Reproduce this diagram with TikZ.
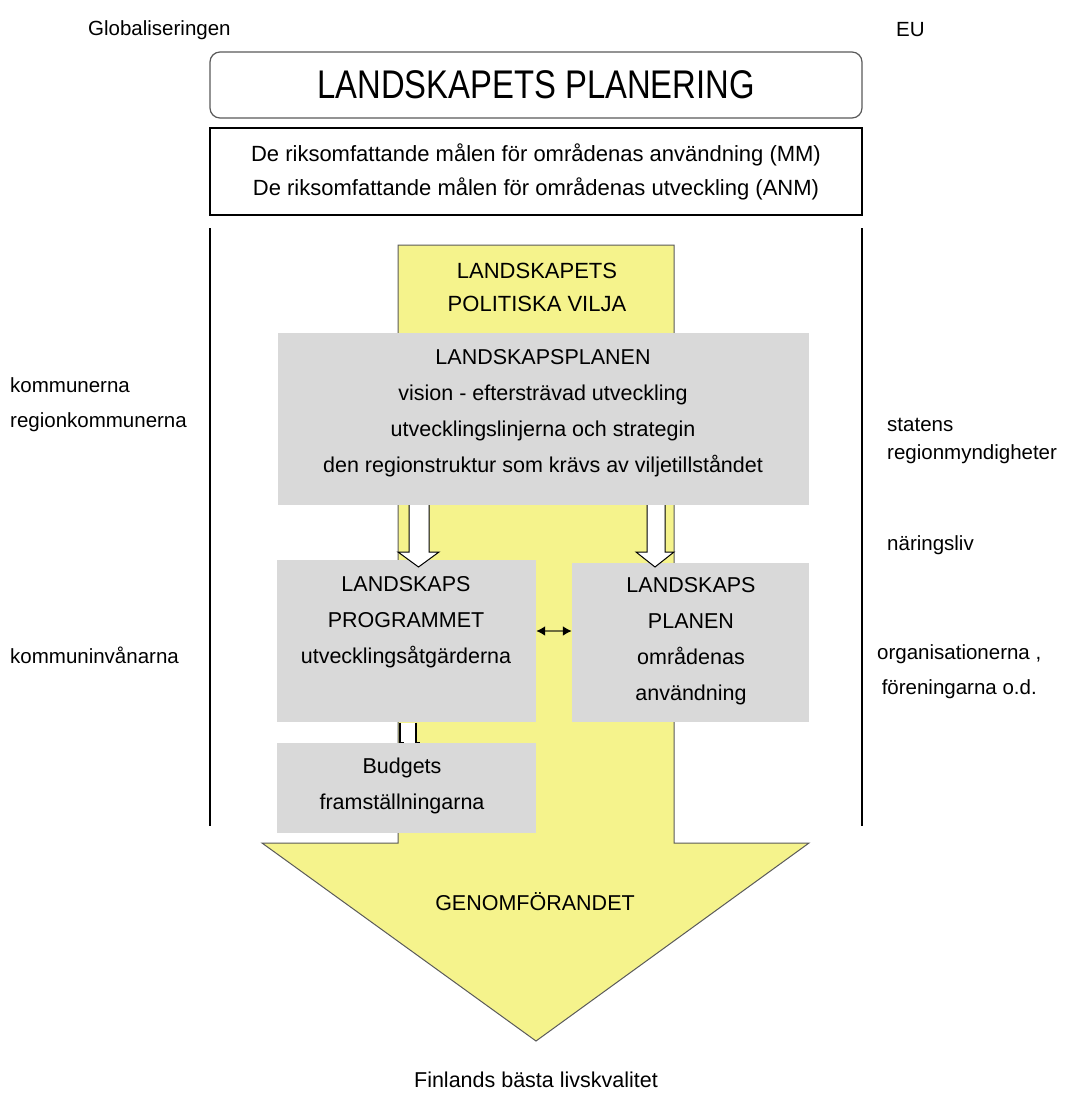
\documentclass[tikz,border=0pt]{standalone}
\usepackage{fontspec}
\setmainfont{Liberation Sans}
\newfontfamily\titlefont[FakeStretch=0.82]{Liberation Sans}
\usetikzlibrary{arrows.meta}
\definecolor{arrowyellow}{RGB}{245,243,140}
\definecolor{boxgray}{RGB}{217,217,217}
\definecolor{edgegray}{RGB}{90,90,90}
\begin{document}
\begin{tikzpicture}[x=1pt,y=-1pt,
  txt/.style={inner sep=0pt, font=\fontsize{21.5}{36}\selectfont, align=center},
  sidetxt/.style={inner sep=0pt, anchor=west, font=\fontsize{20.5}{28}\selectfont, align=left},
  graybox/.style={fill=boxgray, draw=none, inner sep=0pt},
  whitearrow/.style={draw=black, line width=1pt, fill=white},
  frameline/.style={line width=1.8pt, black}]
\useasboundingbox (0,0) rectangle (1070,1095);
\fill[white] (0,0) rectangle (1070,1095);

% top labels
\node[sidetxt] (glob) at (88,30) {Globaliseringen};
\node[sidetxt] (eu) at (896,30) {EU};

% title box
\node[draw=edgegray, line width=1.2pt, rounded corners=10pt, minimum width=652pt, minimum height=66pt, inner sep=0pt] (title) at (536,85) {\titlefont\fontsize{40}{40}\selectfont LANDSKAPETS PLANERING};

% goals box
\node[draw=black, line width=1.8pt, minimum width=652pt, minimum height=87pt, inner sep=0pt, txt, font=\fontsize{22}{34}\selectfont] (goals) at (536,171.5) {De riksomfattande målen för områdenas användning (MM)\\De riksomfattande målen för områdenas utveckling (ANM)};

% frame lines
\coordinate (lt) at (210,228);
\coordinate (lb) at (210,826);
\coordinate (rt) at (862,228);
\coordinate (rb) at (862,826);
\draw[frameline] (lt) -- (lb);
\draw[frameline] (rt) -- (rb);

% big yellow arrow
\draw[edgegray, line width=1pt, fill=arrowyellow] (398,245) -- (674,245) -- (674,843) -- (809,843) -- (536,1041) -- (262,843) -- (398,843) -- cycle;
\node[txt, font=\fontsize{22}{33}\selectfont] (vilja) at (537,287) {LANDSKAPETS\\POLITISKA VILJA};

% main gray box
\node[graybox, minimum width=531pt, minimum height=172pt] (planbox) at (543.5,419) {};
\node[txt] (plantxt) at (543,413) {LANDSKAPSPLANEN\\vision - eftersträvad utveckling\\utvecklingslinjerna och strategin\\den regionstruktur som krävs av viljetillståndet};

% program box
\node[graybox, minimum width=259pt, minimum height=162pt] (progbox) at (406.5,641) {};
\node[txt] (progtxt) at (406,622) {LANDSKAPS\\PROGRAMMET\\utvecklingsåtgärderna};

% planen box
\node[graybox, minimum width=237pt, minimum height=159pt] (planenbox) at (690.5,642.5) {};
\node[txt] (planentxt) at (691,641) {LANDSKAPS\\PLANEN\\områdenas\\användning};

% budget box
\node[graybox, minimum width=259pt, minimum height=90pt] (budgbox) at (406.5,788) {};
\node[txt] (budgtxt) at (402,786) {Budgets\\framställningarna};

% white arrows
\draw[whitearrow] (409,505) -- (409,552) -- (398,552) -- (418.5,567) -- (439,552) -- (429,552) -- (429,505);
\draw[whitearrow] (647,505) -- (647,552) -- (636,552) -- (655,567) -- (674,552) -- (665,552) -- (665,505);
\fill[white] (400,722.5) rectangle (416,742.5);
\draw[black, line width=1.2pt] (400,722.5) -- (400,742.5) -- (404,742.5) (416,722.5) -- (416,742.5) -- (420,742.5);

% double arrow
\draw[{Latex[length=9pt,width=10pt,color=black]}-{Latex[length=9pt,width=10pt,color=black]}, line width=2.5pt, black!55!arrowyellow] ([yshift=10pt]progbox.east) -- ([yshift=11.5pt]planenbox.west);

\node[txt] (genom) at (535,902) {GENOMFÖRANDET};
\node[txt] (finl) at (536,1080) {Finlands bästa livskvalitet};

% left side labels
\node[sidetxt, font=\fontsize{20.5}{35}\selectfont] (kommuner) at (10,405) {kommunerna\\regionkommunerna};
\node[sidetxt] (invanare) at (10,655) {kommuninvånarna};

% right side labels
\node[sidetxt] (statens) at (887,441) {statens\\regionmyndigheter};
\node[sidetxt] (naring) at (887,545) {näringsliv};
\node[sidetxt, font=\fontsize{20.5}{35}\selectfont, align=center] (org) at (877,672) {organisationerna ,\\föreningarna o.d.};
\end{tikzpicture}
\end{document}
